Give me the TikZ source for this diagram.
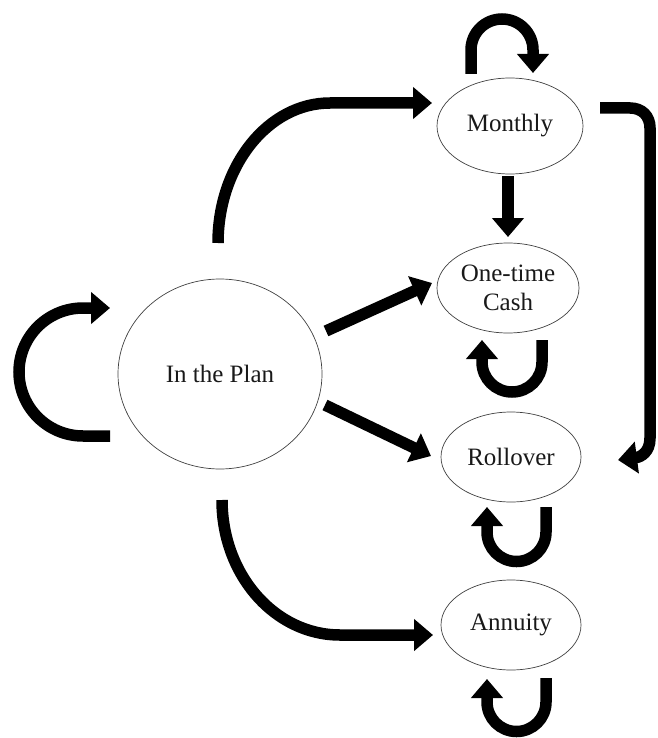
\documentclass[tikz,border=0pt]{standalone}
\usepackage{fontspec}
\setmainfont{Liberation Serif}
\usetikzlibrary{arrows.meta,shapes.geometric}
\tikzset{
  state/.style={ellipse, draw=black!75, line width=0.7pt, inner sep=0pt,
    font=\fontsize{25}{29}\selectfont, align=center, text=black!90},
  bigarrow/.style={line width=11.5pt, draw=black, -{Triangle[length=19pt,width=31pt]}},
}
\begin{document}
\begin{tikzpicture}[x=1pt,y=-1pt]
\useasboundingbox (0,0) rectangle (657,738);
\node[state, minimum width=204pt, minimum height=190pt] (plan) at (220,374) {In the Plan};
\node[state, minimum width=146pt, minimum height=96pt] (monthly) at (510,126) {Monthly};
\node[state, minimum width=142pt, minimum height=90pt] (cash) at (508,288) {One-time\\Cash};
\node[state, minimum width=140pt, minimum height=90pt] (roll) at (511,457) {Rollover};
\node[state, minimum width=140pt, minimum height=90pt] (ann) at (511,625) {Annuity};

% free ends of the connectors
\coordinate (planN) at (218,243);
\coordinate (planS) at (222,500);
\coordinate (planNE) at (326,331);
\coordinate (planSE) at (325,405);
\coordinate (monW) at (432,103);
\coordinate (annW) at (433,635);
\coordinate (cashW) at (432,283);
\coordinate (rollW) at (431,456);
\coordinate (monS) at (508,176);
\coordinate (cashN) at (508,237);
\coordinate (monE) at (600,108);
\coordinate (rollE) at (618,460);

% In the Plan -> Monthly
\draw[bigarrow] (planN) .. controls (218,166) and (268,103) .. (330,103) -- (monW);
% In the Plan -> Annuity
\draw[bigarrow] (planS) .. controls (222,575) and (275,635) .. (340,635) -- (annW);
% In the Plan -> One-time Cash
\draw[bigarrow] (planNE) -- (cashW);
% In the Plan -> Rollover
\draw[bigarrow] (planSE) -- (rollW);
% Monthly -> One-time Cash
\draw[bigarrow] (monS) -- (cashN);
% Monthly -> Rollover
\draw[bigarrow] (monE) -- (630,108) .. controls (642,108) and (650,116) .. (650,128)
  -- (650,438) .. controls (650,452) and (641,457) .. (rollE);
% self loops
\draw[bigarrow] (471,74) -- (471,50) arc[start angle=180, end angle=360, radius=31] -- (533,73);
\draw[bigarrow] (542,340) -- (542,362) arc[start angle=0, end angle=180, radius=30] -- (482,340);
\draw[bigarrow] (546,507) -- (546,532) arc[start angle=0, end angle=180, radius=29.5] -- (487,507);
\draw[bigarrow] (546,678) -- (546,702) arc[start angle=0, end angle=180, radius=29.5] -- (487,679);
\draw[bigarrow] (110,436) -- (83,436) arc[start angle=90, end angle=270, radius=64] -- (110,308);
\end{tikzpicture}
\end{document}
